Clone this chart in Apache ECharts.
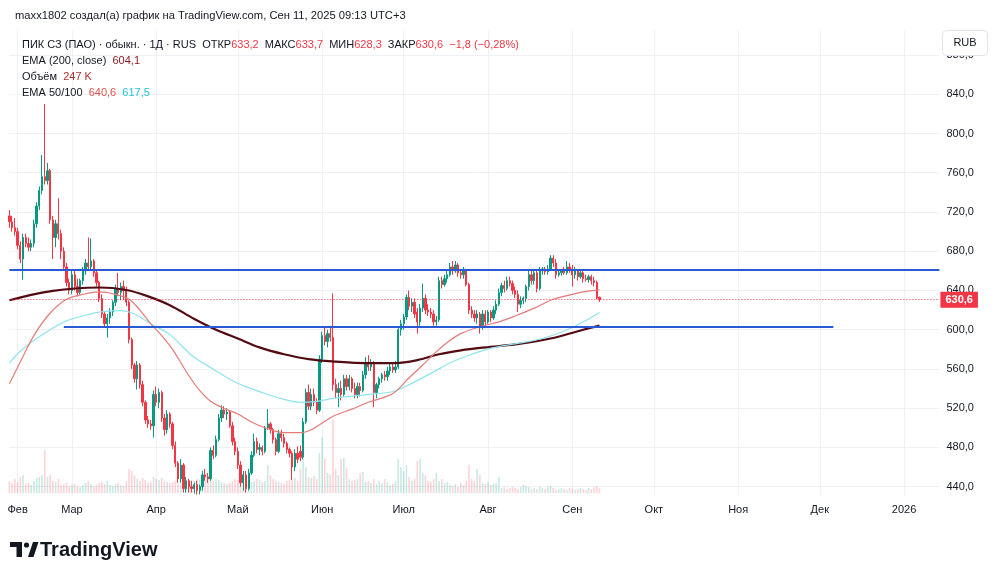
<!DOCTYPE html>
<html>
<head>
<meta charset="utf-8">
<title>ПИК СЗ (ПАО) · 1Д</title>
<script src="https://cdn.jsdelivr.net/npm/echarts@6/dist/echarts.min.js"></script>
<style>
  html, body { margin: 0; padding: 0; background: #fff; }
  #chart { width: 1000px; height: 578px; }
</style>
</head>
<body>
<div id="chart"></div>
<script>
// trading calendar: weekdays until weekend sessions start, then every day
const firstDay = '2025-01-29';
const weekendSessionsFrom = '2025-03-01';
const lastDay = '2026-01-14';

const monthNames = ['Янв', 'Фев', 'Мар', 'Апр', 'Май', 'Июн', 'Июл', 'Авг', 'Сен', 'Окт', 'Ноя', 'Дек'];
const priceTicks = [440, 480, 520, 560, 600, 640, 680, 720, 760, 800, 840, 880];

// daily bars from 2025-01-29, [open, high, low, close]
const candles = [
  [716,722,704,710],[710,716,700,704],[704,714,696,700],[700,704,682,686],[686,690,668,672],
  [672,698,651,694],[694,698,684,688],[688,694,680,684],[684,692,680,688],[688,712,684,708],
  [708,730,704,726],[726,746,722,742],[742,778,738,756],[756,830,748,752],[752,770,748,762],
  [762,764,708,712],[712,716,672,694],[694,712,684,708],[708,734,692,698],[698,702,672,680],
  [680,684,660,664],[664,668,644,648],[648,652,636,640],[640,660,636,656],[656,660,640,644],
  [644,652,634,638],[638,652,636,650],[650,664,646,660],[660,672,656,668],[668,694,660,664],
  [664,693,660,670],[670,672,654,658],[658,660,644,648],[648,650,628,632],[632,636,612,616],
  [616,618,602,606],[606,616,592,612],[612,622,606,618],[618,630,614,628],[628,646,624,642],
  [642,658,634,638],[638,648,630,644],[644,650,630,640],[640,644,624,628],[628,630,586,590],
  [590,592,560,564],[564,566,546,550],[550,568,539,564],[564,566,540,544],[544,548,522,526],
  [526,528,504,508],[508,512,500,504],[504,508,498,502],[502,538,490,534],[534,542,522,526],
  [526,540,520,536],[536,538,506,510],[510,514,492,498],[498,518,494,514],[514,516,500,504],
  [504,506,478,482],[482,486,460,464],[464,466,444,448],[448,468,444,462],[462,464,434,438],
  [438,450,434,446],[446,448,434,440],[440,446,434,438],[438,444,433,442],[442,446,432,436],
  [436,442,432,440],[440,456,436,452],[452,458,446,450],[450,454,444,448],[448,480,446,477],
  [477,482,468,472],[472,492,470,488],[488,514,486,510],[510,523,506,518],[518,522,510,514],
  [514,520,508,516],[516,518,500,502],[502,506,482,486],[486,490,472,476],[476,480,458,462],
  [462,466,440,444],[444,456,436,452],[452,456,434,438],[438,458,436,454],[454,476,452,472],
  [472,494,470,486],[486,490,474,478],[478,484,472,480],[480,482,472,476],[476,502,474,500],
  [500,519,498,504],[504,506,494,498],[498,500,484,488],[488,490,472,476],[476,498,474,494],
  [494,498,486,490],[490,494,480,484],[484,486,474,478],[478,480,470,474],[474,476,447,460],
  [460,478,456,474],[474,481,464,468],[476,482,466,470],[470,510,468,506],[506,540,504,536],
  [536,544,518,522],[522,540,518,534],[534,540,522,526],[526,530,514,518],[518,574,516,570],
  [570,598,566,594],[594,602,584,588],[588,600,582,596],[596,604,588,592],[592,637,538,544],
  [544,550,530,536],[536,546,521,540],[540,548,528,534],[534,554,532,550],[550,554,538,542],
  [542,554,538,550],[550,552,536,540],[540,546,530,534],[534,546,530,542],[542,546,532,538],
  [538,558,536,554],[554,572,550,566],[566,574,558,562],[562,570,558,566],[566,568,521,536],
  [536,546,530,544],[544,552,540,550],[550,556,546,554],[554,558,548,552],[552,562,548,558],
  [558,566,554,562],[562,566,556,559],[559,568,556,562],[562,602,560,600],[600,610,594,606],
  [606,616,600,613],[613,636,610,633],[633,640,620,624],[624,632,618,628],[628,632,612,616],
  [618,622,596,608],[608,626,604,622],[622,647,618,632],[632,636,616,620],[620,626,614,618],
  [618,622,612,616],[616,620,604,608],[608,614,604,610],[610,654,608,650],[650,654,642,646],
  [646,656,644,652],[652,660,648,656],[656,668,654,664],[664,670,656,660],[660,670,658,666],
  [666,668,654,658],[658,662,652,656],[656,664,652,660],[660,662,644,646],[646,648,616,620],
  [620,624,612,616],[616,620,608,612],[612,620,606,616],[616,618,596,602],[602,620,600,616],
  [616,620,604,608],[608,620,606,618],[618,620,608,612],[612,624,610,620],[620,630,616,626],
  [626,642,624,638],[638,648,634,645],[645,650,638,642],[642,654,640,650],[650,654,644,647],
  [647,650,636,640],[640,644,632,636],[636,640,618,626],[626,634,622,630],[630,634,626,632],
  [632,646,628,644],[644,660,640,656],[656,662,646,650],[650,662,646,658],[658,660,638,642],
  [642,664,640,660],[660,664,656,662],[662,664,656,659],[659,666,656,662],[662,676,660,673],
  [673,676,664,668],[668,672,652,656],[656,662,654,658],[658,662,655,660],[660,664,656,658],
  [658,670,656,664],[664,668,658,662],[662,666,644,656],[656,664,652,660],[660,662,650,654],
  [654,660,652,658],[658,660,648,652],[652,656,649,651],[651,656,648,654],[654,656,646,650],
  [650,654,644,648],[648,650,631,632.4],[633.2,633.7,628.3,630.6]
];

// volume, thousands of shares
const volumes = [
  600,500,700,550,800, 900, 450,500,400,600, 750,800,900, 2150, 800, 900, 600,550,700,
  400,450,500,350,400,450, 350,300,400,500,600,450,350,400, 500,550,450,600,
  400,350,450,500,400,350,600, 1200,1100,900, 700,600,750,650,500,550,
  800,700,650,750,600,550, 500,550,600,450,500,600,400, 500,450,600,700,650,550,600,750,
  800,600,700,650,550,500,450, 500,600,700,650,800,550,500,450, 550,600,700,650,550,600,
  1400, 900,700,600,550,500,450,600,650,700,750,600,1200, 1700,1300, 800,750,850,700,
  2000, 2800, 1700, 1000,900, 3700, 1200,900, 1700,1750,1250, 700,600,650,700, 1000,1050,
  550,600,500, 700, 450,600,500,700,550,400,450, 600, 1700, 1300,1100,1400, 800,600,700,
  1600,1700, 1000,900, 600,550,700, 1000, 600,700,500,550, 400,350,450,300, 500, 400, 600,
  1400, 700,600, 1200, 900, 500,450,550, 400, 450,500, 800, 250,300,200,250,300,250,200,300,
  400,350,300, 200,250,200,300,250,200, 300,350,250, 150,200,250,200,150,250,200,150,200,250,
  200,150,250,200,300,350,247
];

// moving averages read at [bar number, value]
const ema200 = [[0,630],[8,635.5],[16,639.5],[24,642],[33,643],[43,640.5],[51,634],[59,625],
  [68,611],[76,600],[84,591],[92,582],[101,575],[110,570],[120,567.5],[131,566],[142,566],
  [150,569],[158,575],[166,579],[175,582],[186,585],[199,591],[211,600],[217,604.1]];
const ema50 = [[0,545],[4,567],[9,594],[15,617],[21,631],[27,636],[33,638.5],[39,636],[44,631],
  [48,620],[52,606],[56,594],[60,580],[64,562],[67,549],[70,538],[74,527],[78,521],[84,514],
  [89,506],[95,499],[101,495],[107,495],[111,498],[115,505],[120,513],[126,519],[132,526],
  [141,535],[147,551],[152,564],[156,575],[161,587],[166,596],[173,603],[180,608],[186,614],
  [193,622],[200,631],[207,636],[212,639],[217,640.6]];
const ema100 = [[0,566],[4,578],[9,589],[15,600],[21,609],[27,614],[33,618],[41,619.5],[46,616],
  [52,606],[59,595],[67,574],[76,558],[82,548],[88,541],[95,534],[101,529],[107,526],[113,527],
  [119,530],[132,534],[141,537],[147,544],[156,557],[162,566],[169,574],[177,581],
  [187,586],[196,591],[206,601],[213,611],[217,617.5]];

// drawn horizontal levels
const levelPrices = [661, 603];
const levelFrom = ['2025-01-29', '2025-02-26'];
const levelTo = ['2026-01-14', '2025-12-06'];

const UP = '#089981';
const DOWN = '#f23645';
const FONT = "'Liberation Sans', 'Noto Sans', sans-serif";

function buildDays() {
  const days = [];
  const d = new Date(firstDay + 'T00:00:00Z');
  const end = new Date(lastDay + 'T00:00:00Z');
  const weekendFrom = new Date(weekendSessionsFrom + 'T00:00:00Z');
  while (d <= end) {
    const wd = d.getUTCDay();
    if (d >= weekendFrom || (wd !== 0 && wd !== 6)) {
      days.push(d.toISOString().slice(0, 10));
    }
    d.setUTCDate(d.getUTCDate() + 1);
  }
  return days;
}

const days = buildDays();
const isMonthStart = (i) => i > 0 && days[i].slice(0, 7) !== days[i - 1].slice(0, 7);
const fmt = (v) => v.toFixed(1).replace('.', ',');
const fmtSigned = (v, n) => (v < 0 ? '−' : '+') + Math.abs(v).toFixed(n).replace('.', ',');

const last = candles[candles.length - 1];
const prev = candles[candles.length - 2];
const change = last[3] - prev[3];
const changePct = change / prev[3] * 100;

const chart = echarts.init(document.getElementById('chart'));

const LEG = 11;
const richText = (extra) => Object.assign({ n: { fontSize: LEG, color: '#131722', fontFamily: FONT } }, extra);

const option = {
  animation: false,
  backgroundColor: '#ffffff',
  textStyle: { fontFamily: FONT },
  title: [
    {
      text: 'maxx1802 создал(а) график на TradingView.com, Сен 11, 2025 09:13 UTC+3',
      left: 10, top: 5,
      textStyle: { fontSize: 11.2, fontWeight: 'normal', color: '#131722', fontFamily: FONT }
    },
    {
      text: '{n|ПИК СЗ (ПАО) · обыкн. · 1Д · RUS}  {n|ОТКР}{r|' + fmt(last[0]) + '}  {n|МАКС}{r|' + fmt(last[1]) +
        '}  {n|МИН}{r|' + fmt(last[2]) + '}  {n|ЗАКР}{r|' + fmt(last[3]) + '}  {r|' + fmtSigned(change, 1) +
        ' (' + fmtSigned(changePct, 2) + '%)}',
      left: 17, top: 34,
      textStyle: {
        fontSize: LEG, fontWeight: 'normal', color: '#131722', fontFamily: FONT,
        rich: richText({ r: { fontSize: LEG, color: DOWN, fontFamily: FONT } })
      }
    },
    {
      text: '{n|EMA (200, close)}  {d|' + fmt(ema200[ema200.length - 1][1]) + '}',
      left: 17, top: 50,
      textStyle: {
        fontSize: LEG, fontWeight: 'normal', fontFamily: FONT,
        rich: richText({ d: { fontSize: LEG, color: '#8c1d24', fontFamily: FONT } })
      }
    },
    {
      text: '{n|Объём}  {d|' + volumes[volumes.length - 1] + ' K}',
      left: 17, top: 66,
      textStyle: {
        fontSize: LEG, fontWeight: 'normal', fontFamily: FONT,
        rich: richText({ d: { fontSize: LEG, color: '#a8322f', fontFamily: FONT } })
      }
    },
    {
      text: '{n|EMA 50/100}  {r|' + fmt(ema50[ema50.length - 1][1]) + '}  {c|' + fmt(ema100[ema100.length - 1][1]) + '}',
      left: 17, top: 82,
      textStyle: {
        fontSize: LEG, fontWeight: 'normal', fontFamily: FONT,
        rich: richText({
          r: { fontSize: LEG, color: '#e0504f', fontFamily: FONT },
          c: { fontSize: LEG, color: '#22c3d6', fontFamily: FONT }
        })
      }
    }
  ],
  grid: [
    { left: 9.4, right: 60.6, top: 30, bottom: 83 },
    { left: 9.4, right: 60.6, top: 393, bottom: 85 }
  ],
  xAxis: [
    {
      type: 'category', gridIndex: 0, data: days, boundaryGap: false,
      axisLine: { show: false }, axisTick: { show: false },
      axisLabel: {
        interval: (i) => isMonthStart(i),
        formatter: (v) => (v.slice(5, 7) === '01' ? v.slice(0, 4) : monthNames[+v.slice(5, 7) - 1]),
        color: '#131722', fontSize: 11, margin: 9, fontFamily: FONT
      },
      splitLine: { show: true, interval: (i) => isMonthStart(i), lineStyle: { color: '#eef0f5', width: 1 } }
    },
    {
      type: 'category', gridIndex: 1, data: days, boundaryGap: false, show: false
    }
  ],
  yAxis: [
    {
      type: 'value', gridIndex: 0, position: 'right', min: 431.5, max: 905.5,
      axisLine: { show: false },
      axisTick: { show: false, customValues: priceTicks },
      axisLabel: { customValues: priceTicks, formatter: (v) => fmt(v), color: '#131722', fontSize: 11, margin: 7, fontFamily: FONT },
      splitLine: { show: true, lineStyle: { color: '#eef0f5', width: 1 } }
    },
    { type: 'value', gridIndex: 1, min: 0, max: 5000, show: false }
  ],
  series: [
    {
      type: 'bar', xAxisIndex: 1, yAxisIndex: 1, barWidth: 1.6, silent: true, z: 1,
      data: volumes.map((v, i) => ({
        value: v,
        itemStyle: { color: candles[i][3] >= candles[i][0] ? 'rgba(8,153,129,0.22)' : 'rgba(242,54,69,0.22)' }
      }))
    },
    {
      type: 'candlestick', xAxisIndex: 0, yAxisIndex: 0, barWidth: 1.8, z: 3,
      data: candles.map((c) => [c[0], c[3], c[2], c[1]]),
      itemStyle: { color: UP, color0: DOWN, borderColor: UP, borderColor0: DOWN, borderWidth: 1 },
      markLine: {
        silent: true, symbol: ['none', 'none'], z: 6,
        data: [
          [{ coord: [levelFrom[0], levelPrices[0]], lineStyle: { color: '#2a5ad3', width: 2, type: 'solid' }, label: { show: false } },
           { coord: [levelTo[0], levelPrices[0]] }],
          [{ coord: [levelFrom[1], levelPrices[1]], lineStyle: { color: '#2a5ad3', width: 2, type: 'solid' }, label: { show: false } },
           { coord: [levelTo[1], levelPrices[1]] }],
          {
            yAxis: last[3],
            lineStyle: { color: DOWN, width: 1, type: [1, 2] },
            label: {
              show: true, position: 'end', distance: 1, formatter: fmt(last[3]),
              backgroundColor: DOWN, color: '#fff', fontWeight: 'bold', fontSize: 11,
              padding: [3, 5, 2, 5], fontFamily: FONT
            }
          }
        ]
      }
    },
    {
      type: 'line', name: 'EMA 200', data: ema200, smooth: 0.35, showSymbol: false,
      lineStyle: { color: '#520b12', width: 2.2 }, z: 4, silent: true
    },
    {
      type: 'line', name: 'EMA 100', data: ema100, smooth: 0.35, showSymbol: false,
      lineStyle: { color: '#8fe3ec', width: 1.2 }, z: 4, silent: true
    },
    {
      type: 'line', name: 'EMA 50', data: ema50, smooth: 0.35, showSymbol: false,
      lineStyle: { color: '#e37b78', width: 1.2 }, z: 4, silent: true
    }
  ],
  graphic: [
    {
      type: 'rect', z: 100, shape: { x: 942.5, y: 30.5, width: 45, height: 25, r: 4 },
      style: { fill: '#ffffff', stroke: '#e0e3eb', lineWidth: 1 }
    },
    {
      type: 'text', z: 101, x: 965, y: 43,
      style: { text: 'RUB', fill: '#131722', fontSize: 11, fontFamily: FONT, align: 'center', verticalAlign: 'middle' }
    },
    { type: 'rect', z: 100, shape: { x: 10, y: 542, width: 12, height: 5 }, style: { fill: '#131722' } },
    { type: 'rect', z: 100, shape: { x: 16.5, y: 542, width: 5.5, height: 15 }, style: { fill: '#131722' } },
    { type: 'circle', z: 100, shape: { cx: 26.5, cy: 545, r: 2.6 }, style: { fill: '#131722' } },
    { type: 'polygon', z: 100, shape: { points: [[28, 557], [33, 542], [38.5, 542], [33.5, 557]] }, style: { fill: '#131722' } },
    {
      type: 'text', z: 100, x: 40, y: 550,
      style: { text: 'TradingView', fill: '#131722', fontSize: 20, fontWeight: 'bold', fontFamily: FONT, verticalAlign: 'middle' }
    }
  ]
};

chart.setOption(option);
</script>
</body>
</html>
